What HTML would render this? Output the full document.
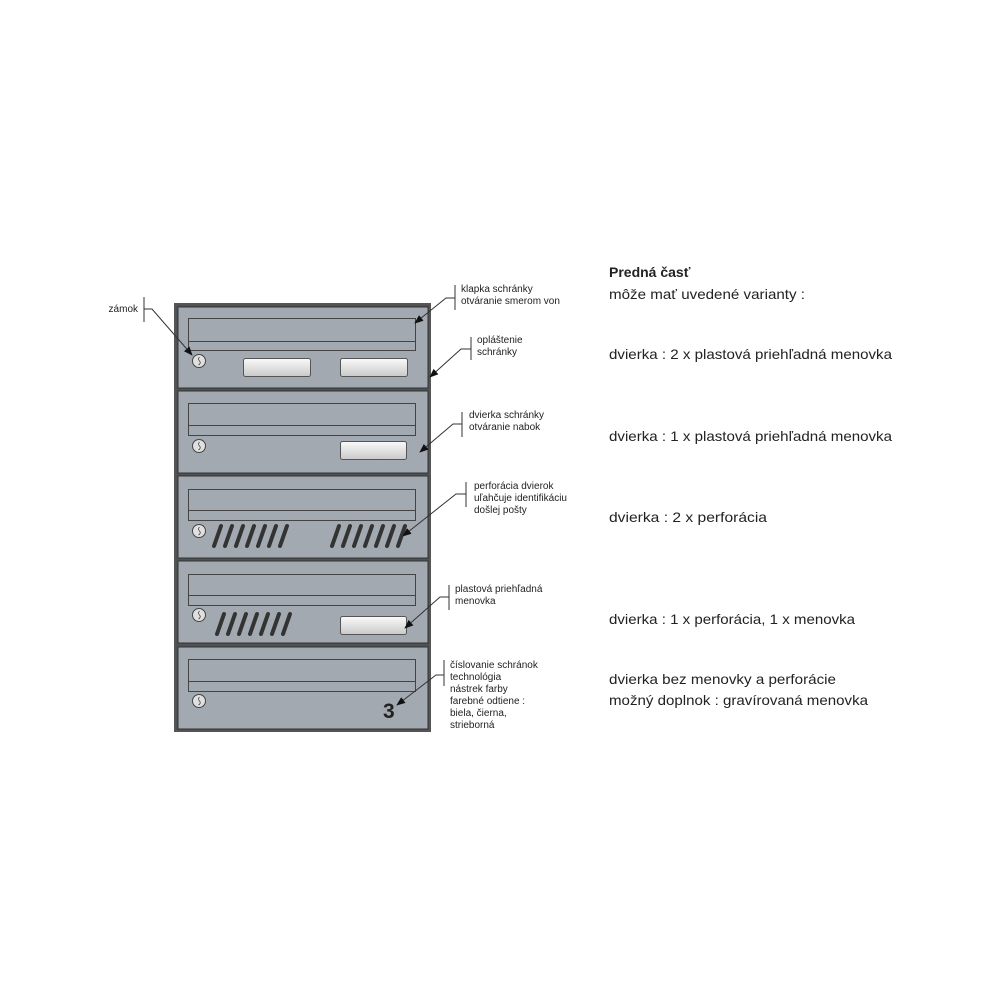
<!DOCTYPE html>
<html><head><meta charset="utf-8"><style>
html,body{margin:0;padding:0;background:#fff;}
svg{display:block}
.s{font-family:"Liberation Sans",Arial,sans-serif;font-size:10px;fill:#222}
.r{font-family:"Liberation Sans",sans-serif;font-size:14px;fill:#222}
</style></head><body>
<svg width="1000" height="1000" viewBox="0 0 1000 1000" xmlns="http://www.w3.org/2000/svg">
<defs>
<linearGradient id="g" x1="0" y1="0" x2="0" y2="1"><stop offset="0" stop-color="#fafafa"/><stop offset="1" stop-color="#c9c9c9"/></linearGradient>
<marker id="a" viewBox="0 0 10 10" refX="9" refY="5" markerWidth="9" markerHeight="9" orient="auto"><path d="M0,1 L10,5 L0,9 z" fill="#111"/></marker>
<g id="sl"><g stroke="#333" stroke-width="4" stroke-linecap="round">
<line x1="0" y1="20" x2="7" y2="0"/><line x1="11" y1="20" x2="18" y2="0"/><line x1="22" y1="20" x2="29" y2="0"/><line x1="33" y1="20" x2="40" y2="0"/><line x1="44" y1="20" x2="51" y2="0"/><line x1="55" y1="20" x2="62" y2="0"/><line x1="66" y1="20" x2="73" y2="0"/></g></g>
<g id="lk"><circle r="6.5" fill="#e0e0e0" stroke="#444" stroke-width="1"/><path d="M0.5,-4 q-2,2 0,4 q2,2 -1,4" stroke="#444" fill="none" stroke-width="0.8"/></g>
</defs>
<rect x="175" y="304" width="255" height="427" fill="#4f5255" stroke="#555" stroke-width="2"/>
<g fill="#a3a9b1" stroke="#333" stroke-width="1">
<rect x="178" y="307" width="250" height="81"/>
<rect x="178" y="391" width="250" height="82"/>
<rect x="178" y="476" width="250" height="82"/>
<rect x="178" y="561" width="250" height="82"/>
<rect x="178" y="647" width="250" height="82"/>
</g>
<g fill="none" stroke="#444" stroke-width="1">
<rect x="188.5" y="318.5" width="227" height="32"/><line x1="188" y1="341.5" x2="415" y2="341.5"/>
<rect x="188.5" y="403.5" width="227" height="32"/><line x1="188" y1="425.5" x2="415" y2="425.5"/>
<rect x="188.5" y="489.5" width="227" height="31"/><line x1="188" y1="510.5" x2="415" y2="510.5"/>
<rect x="188.5" y="574.5" width="227" height="31"/><line x1="188" y1="595.5" x2="415" y2="595.5"/>
<rect x="188.5" y="659.5" width="227" height="32"/><line x1="188" y1="681.5" x2="415" y2="681.5"/>
</g>
<use href="#lk" x="199" y="361"/><use href="#lk" x="199" y="446"/><use href="#lk" x="199" y="531"/><use href="#lk" x="199" y="615"/><use href="#lk" x="199" y="701"/>
<g fill="url(#g)" stroke="#555" stroke-width="1">
<rect x="243.5" y="358.5" width="67" height="18" rx="2"/>
<rect x="340.5" y="358.5" width="67" height="18" rx="2"/>
<rect x="340.5" y="441.5" width="66" height="18" rx="2"/>
<rect x="340.5" y="616.5" width="66" height="18" rx="2"/>
</g>
<use href="#sl" x="214" y="526"/><use href="#sl" x="332" y="526"/><use href="#sl" x="217" y="614"/>
<text x="383" y="718" font-family="Liberation Sans,sans-serif" font-weight="bold" font-size="21" fill="#222">3</text>
<g stroke="#333" stroke-width="1" fill="none">
<line x1="144" y1="297" x2="144" y2="322"/><polyline points="144,309 152,309 192,355" marker-end="url(#a)"/>
<line x1="455" y1="285" x2="455" y2="310"/><polyline points="455,298 446,298 415,323" marker-end="url(#a)"/>
<line x1="471" y1="337" x2="471" y2="360"/><polyline points="471,349 461,349 430,377" marker-end="url(#a)"/>
<line x1="462" y1="412" x2="462" y2="437"/><polyline points="462,424 453,424 420,452" marker-end="url(#a)"/>
<line x1="466" y1="482" x2="466" y2="507"/><polyline points="466,494 456,494 403,536" marker-end="url(#a)"/>
<line x1="449" y1="585" x2="449" y2="610"/><polyline points="449,597 440,597 405,628" marker-end="url(#a)"/>
<line x1="444" y1="660" x2="444" y2="686"/><polyline points="444,675 436,675 397,705" marker-end="url(#a)"/>
</g>
<text class="s" x="138" y="312" text-anchor="end">zámok</text>
<text class="s" x="461" y="292">klapka schránky</text><text class="s" x="461" y="304">otváranie smerom von</text>
<text class="s" x="477" y="343">opláštenie</text><text class="s" x="477" y="355">schránky</text>
<text class="s" x="469" y="418">dvierka schránky</text><text class="s" x="469" y="430">otváranie nabok</text>
<text class="s" x="474" y="489">perforácia dvierok</text><text class="s" x="474" y="501">uľahčuje identifikáciu</text><text class="s" x="474" y="513">došlej pošty</text>
<text class="s" x="455" y="592">plastová priehľadná</text><text class="s" x="455" y="604">menovka</text>
<text class="s" x="450" y="668">číslovanie schránok</text><text class="s" x="450" y="680">technológia</text><text class="s" x="450" y="692">nástrek farby</text><text class="s" x="450" y="704">farebné odtiene :</text><text class="s" x="450" y="716">biela, čierna,</text><text class="s" x="450" y="728">strieborná</text>
<text class="r" x="609" y="277" font-weight="bold">Predná časť</text>
<text class="r" x="609" y="299" textLength="196" lengthAdjust="spacingAndGlyphs">môže mať uvedené varianty :</text>
<text class="r" x="609" y="359" textLength="283" lengthAdjust="spacingAndGlyphs">dvierka : 2 x plastová priehľadná menovka</text>
<text class="r" x="609" y="441" textLength="283" lengthAdjust="spacingAndGlyphs">dvierka : 1 x plastová priehľadná menovka</text>
<text class="r" x="609" y="522" textLength="158" lengthAdjust="spacingAndGlyphs">dvierka : 2 x perforácia</text>
<text class="r" x="609" y="624" textLength="246" lengthAdjust="spacingAndGlyphs">dvierka : 1 x perforácia, 1 x menovka</text>
<text class="r" x="609" y="684" textLength="227" lengthAdjust="spacingAndGlyphs">dvierka bez menovky a perforácie</text>
<text class="r" x="609" y="705" textLength="259" lengthAdjust="spacingAndGlyphs">možný doplnok : gravírovaná menovka</text>
</svg>
</body></html>
